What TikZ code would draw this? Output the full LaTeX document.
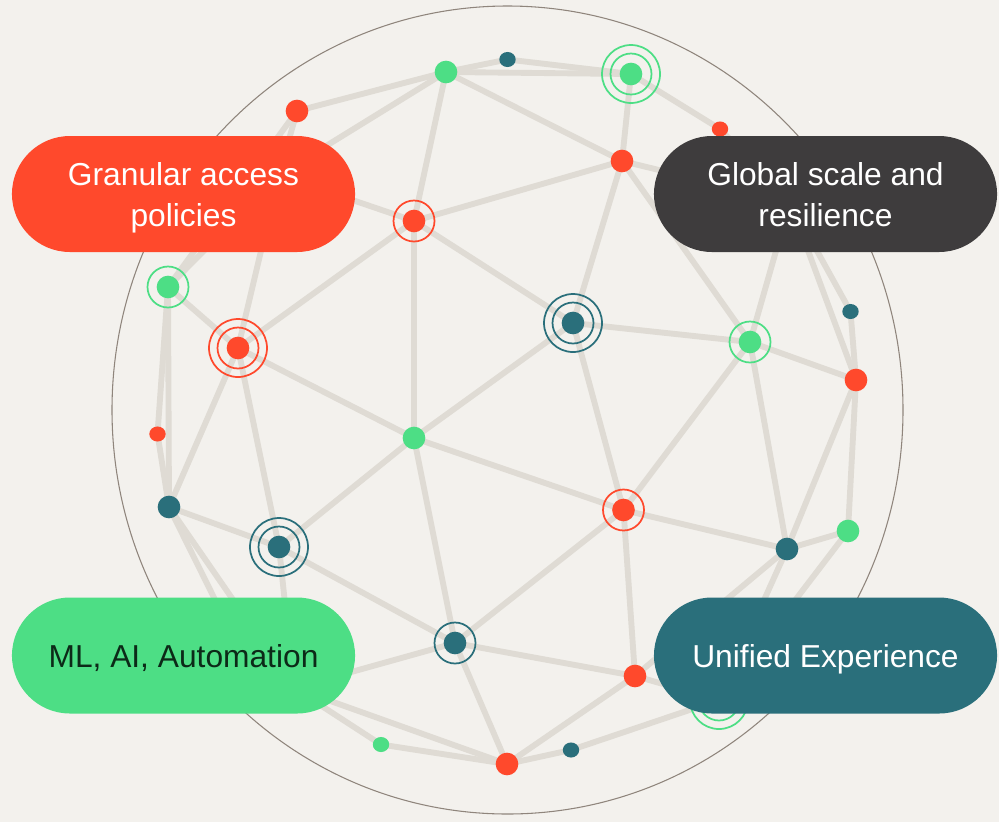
\documentclass[tikz,border=0pt]{standalone}
\usepackage{fontspec}
\setmainfont{Liberation Sans}
\usetikzlibrary{shapes.geometric,shapes.misc,backgrounds}
\definecolor{bgc}{HTML}{F3F1ED}
\definecolor{edgec}{HTML}{DFDBD4}
\definecolor{ringc}{HTML}{8F857C}
\definecolor{redc}{HTML}{FF492C}
\definecolor{greenc}{HTML}{4DDE85}
\definecolor{tealc}{HTML}{2A6F7B}
\definecolor{darkc}{HTML}{3E3C3D}
\definecolor{inkc}{HTML}{0C2A18}
\tikzset{
  x=0.75pt,y=-0.75pt,
  link/.style={draw=edgec,line width=4.4pt},
  big/.style={circle,inner sep=0pt,minimum size=17pt},
  small/.style={ellipse,inner sep=0pt,minimum width=12.3pt,minimum height=11.3pt},
  pill/.style={rounded rectangle,minimum width=257.3pt,minimum height=87pt,inner sep=0pt},
  pilltext/.style={align=center,inner sep=0pt,yshift=-2.6pt,font=\fontsize{23.8}{31}\selectfont},
  halo/.style={draw,line width=1.3pt,fill=none},
}
\newcommand{\halo}[3]{\draw[halo,#1] (#2.center) circle[radius=#3*0.75pt];}
\begin{document}
\begin{tikzpicture}
\useasboundingbox (0,0) rectangle (999,822);
% dots
\foreach \n/\x/\y in {b1/297/111,b2/622/161,b3/414/221,c2/238/348,c6/856/380,d4/623.5/510,e3/635/676,f2/507/764}
  \node[big,fill=redc] (\n) at (\x,\y) {};
\foreach \n/\x/\y in {a1/446/72,a3/631/74,c1/168/287,c4/750/342,d2/414/438,d5/848/531,e4/719/700}
  \node[big,fill=greenc] (\n) at (\x,\y) {};
\foreach \n/\x/\y in {c3/573/323,d3/169/507,d6/787/549,e1/279/547,e2/455/643}
  \node[big,fill=tealc] (\n) at (\x,\y) {};
\foreach \n/\x/\y in {a4/720/129,d1/157.5/434}
  \node[small,fill=redc] (\n) at (\x,\y) {};
\foreach \n/\x/\y in {a2/507.5/59.5,c5/850.5/311.5,f3/571/750}
  \node[small,fill=tealc] (\n) at (\x,\y) {};
\node[small,fill=greenc] (f1) at (381,744.5) {};
% junctions hidden behind the pills
\coordinate (h1) at (279,175);
\coordinate (h2) at (790,202);
\coordinate (h3) at (294,688);
\coordinate (h4) at (245,660);
\begin{scope}[on background layer]
\fill[bgc] (0,0) rectangle (999,822);
\draw[ringc,line width=0.8pt] (507.5,410) ellipse[x radius=395.5*0.75pt,y radius=404*0.75pt];
\foreach \p/\q in {a1/a2,a2/a3,a1/a3,a1/b1,a1/b2,a1/b3,a3/b2,a3/a4,b1/h1,a1/h1,b3/h1,c1/h1,c2/h1,b1/c1,
  b2/b3,b2/c3,b2/c4,b2/h2,a4/h2,b3/c2,b3/c3,b3/d2,c1/c2,c1/d1,c1/d3,c2/d2,c2/d3,c2/e1,c3/c4,c3/d2,c3/d4,
  c4/c6,c4/d4,c4/d6,c4/h2,c5/c6,c5/h2,c6/h2,c6/d5,c6/d6,d1/d3,d2/d4,d2/e1,d2/e2,d3/e1,d3/h3,d3/h4,
  d4/d6,d4/e2,d4/e3,d5/d6,d5/e4,d6/e3,d6/e4,e1/e2,e1/h3,e2/e3,e2/f2,e2/h3,e3/f2,e3/e4,e4/f3,f1/f2,f1/h3,f2/f3,f2/h3}
  \draw[link] (\p.center) -- (\q.center);
\end{scope}
% halos
\halo{greenc}{a3}{20.5}\halo{greenc}{a3}{29}
\halo{redc}{b3}{20.5}
\halo{greenc}{c1}{20.5}
\halo{redc}{c2}{20.5}\halo{redc}{c2}{29}
\halo{tealc}{c3}{20.5}\halo{tealc}{c3}{29}
\halo{greenc}{c4}{20.5}
\halo{redc}{d4}{20.5}
\halo{tealc}{e1}{20.5}\halo{tealc}{e1}{29}
\halo{tealc}{e2}{20.5}
\halo{greenc}{e4}{20.5}\halo{greenc}{e4}{29}
% pills
\node[pill,fill=redc] (p1) at (183.5,194) {};
\node[pill,fill=darkc] (p2) at (825.5,194) {};
\node[pill,fill=greenc] (p3) at (183.5,655.5) {};
\node[pill,fill=tealc] (p4) at (825.5,655.5) {};
\node[pilltext,text=white] (t1) at (p1) {\strut Granular access\\\strut policies};
\node[pilltext,text=white] (t2) at (p2) {\strut Global scale and\\\strut resilience};
\node[pilltext,text=inkc] (t3) at (p3) {\strut ML, AI, Automation};
\node[pilltext,text=white] (t4) at (p4) {\strut Unified Experience};
\end{tikzpicture}
\end{document}
